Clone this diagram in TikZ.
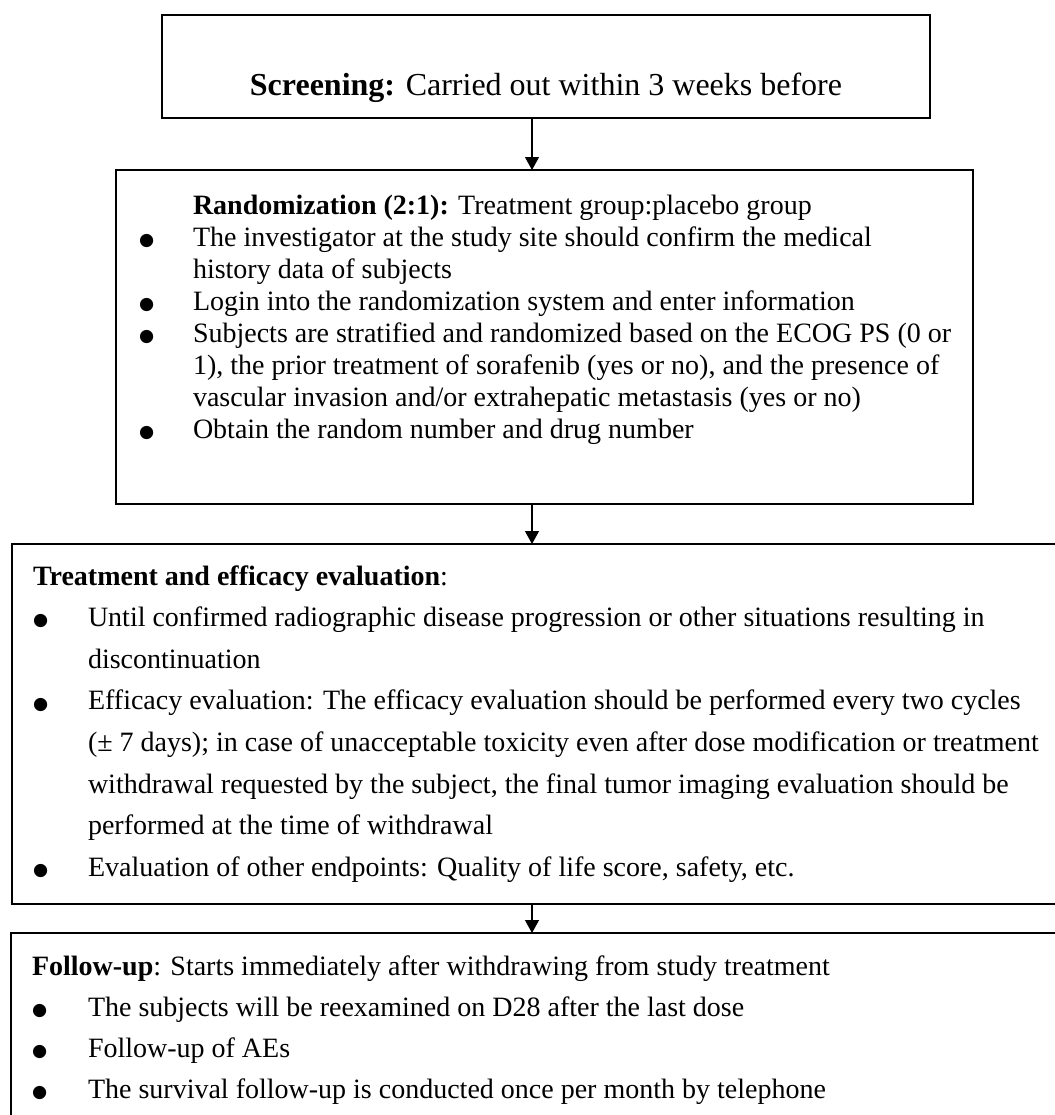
\documentclass[tikz,border=0pt]{standalone}
\usepackage{fontspec}
\setmainfont{Liberation Serif}
\newfontfamily\symfont{DejaVu Sans}
\usetikzlibrary{arrows.meta}
\newcommand\bulsym{\raisebox{0.5pt}{\symfont\fontsize{13pt}{13pt}\selectfont ●}}
\newcommand\bitem[1]{\makebox[#1][l]{\bulsym}}
\begin{document}
\begin{tikzpicture}[x=0.75pt,y=-0.75pt,
  box/.style={draw=black, line width=1.1pt, fill=none, inner sep=0pt, outer sep=0pt, anchor=north west},
  txt/.style={inner sep=0pt, outer sep=0pt, anchor=base west, text=black},
  arr/.style={draw=black, line width=0.9pt, -{Triangle[length=9.75pt,width=10.5pt]}}]
\useasboundingbox (0,0) rectangle (1055,1115);
\clip (0,0) rectangle (1055,1115);
\fill[white] (0,0) rectangle (1055,1115);

% boxes
\node[box, minimum width=576pt, minimum height=77.25pt] (scr) at (162,15) {};
\node[box, minimum width=642.75pt, minimum height=250.5pt] (rand) at (116,170) {};
\node[box, minimum width=787.5pt, minimum height=270pt] (treat) at (12,544) {};
\node[box, minimum width=788.25pt, minimum height=144pt] (fol) at (11,933) {};

% arrows
\coordinate (ax) at (532,0);
\draw[arr] (scr.south -| ax) -- (rand.north -| ax);
\draw[arr] (rand.south -| ax) -- (treat.north -| ax);
\draw[arr] (treat.south -| ax) -- (fol.north -| ax);

% texts
\node[txt, anchor=base] (scrtxt) at (546,95) {\fontsize{24pt}{28pt}\selectfont\textbf{Screening:} Carried out within 3 weeks before};

\node[txt] (randtxt) at (139,214) {\parbox[t]{620pt}{\raggedright\fontsize{21pt}{24pt}\selectfont
\hspace*{40.5pt}\textbf{Randomization (2:1):} Treatment group:placebo group\\
\bitem{40.5pt}The investigator at the study site should confirm the medical\\
\hspace*{40.5pt}history data of subjects\\
\bitem{40.5pt}Login into the randomization system and enter information\\
\bitem{40.5pt}Subjects are stratified and randomized based on the ECOG PS (0 or\\
\hspace*{40.5pt}1), the prior treatment of sorafenib (yes or no), and the presence of\\
\hspace*{40.5pt}vascular invasion and/or extrahepatic metastasis (yes or no)\\
\bitem{40.5pt}Obtain the random number and drug number}};

\node[txt] (treattxt) at (33,585) {\parbox[t]{765pt}{\raggedright\fontsize{21pt}{31.2pt}\selectfont
\textbf{Treatment and efficacy evaluation}:\\
\bitem{41.25pt}Until confirmed radiographic disease progression or other situations resulting in\\
\hspace*{41.25pt}discontinuation\\
\bitem{41.25pt}Efficacy evaluation: The efficacy evaluation should be performed every two cycles\\
\hspace*{41.25pt}(± 7 days); in case of unacceptable toxicity even after dose modification or treatment\\
\hspace*{41.25pt}withdrawal requested by the subject, the final tumor imaging evaluation should be\\
\hspace*{41.25pt}performed at the time of withdrawal\\
\bitem{41.25pt}Evaluation of other endpoints: Quality of life score, safety, etc.}};

\node[txt] (foltxt) at (32,975) {\parbox[t]{765pt}{\raggedright\fontsize{21pt}{30.75pt}\selectfont
\textbf{Follow-up}: Starts immediately after withdrawing from study treatment\\
\bitem{42pt}The subjects will be reexamined on D28 after the last dose\\
\bitem{42pt}Follow-up of AEs\\
\bitem{42pt}The survival follow-up is conducted once per month by telephone}};
\end{tikzpicture}
\end{document}
